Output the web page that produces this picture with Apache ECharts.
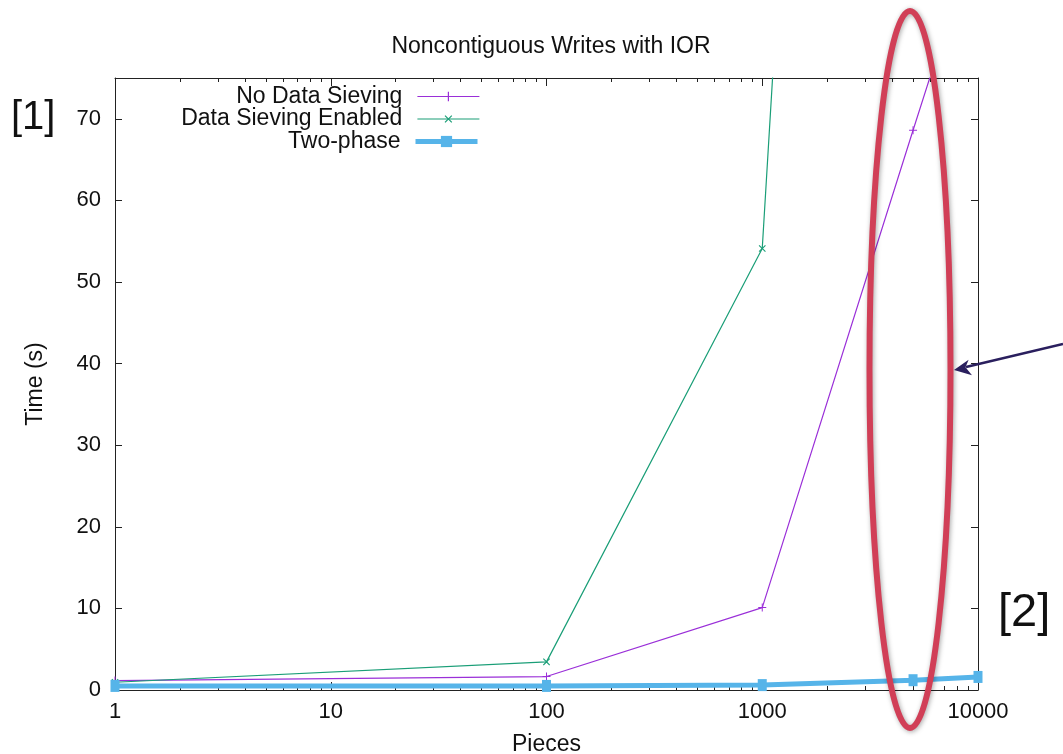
<!DOCTYPE html>
<html>
<head>
<meta charset="utf-8">
<script src="https://cdn.jsdelivr.net/npm/echarts@6/dist/echarts.min.js"></script>
<style>html,body{margin:0;padding:0;background:#fff}#c{width:1063px;height:754px}</style>
</head>
<body>
<div id="c"></div>
<script>
// ---- data ----
const pieces = [1, 100, 1000, 5000, 10000];
const noDataSieving = [1.15, 1.65, 10.1, 68.6, 93.5];
const dataSievingEnabled = [0.95, 3.45, 54.1, 360, null];
const twoPhase = [0.5, 0.5, 0.6, 1.2, 1.6];
const seriesNames = ['No Data Sieving', 'Data Sieving Enabled', 'Two-phase'];
const yTicks = [0, 10, 20, 30, 40, 50, 60, 70];
const xMajorTicks = [1, 10, 100, 1000, 10000];
const xMinorTicks = [];
for (let d = 1; d < 10000; d *= 10) for (let m = 2; m <= 9; m++) xMinorTicks.push(m * d);

const FONT = 'Liberation Sans, Arial, sans-serif';
const AX = '#222';
const purple = '#9a2fd8';
const green = '#1a9e77';
const blue = '#56b4e9';
const lineWidths = [1.2, 1.2, 5];
const plusPath = 'path://M3.5,0H4.5V3.5H8V4.5H4.5V8H3.5V4.5H0V3.5H3.5Z';

const pairs = (xs, ys) => xs.map((x, i) => [x, ys[i]]);

function xAxisDef(pos, ticks, len, showLabel, showLine) {
  return {
    type: 'log', logBase: 10, min: 1, max: 10000, position: pos,
    axisLine: { show: showLine, lineStyle: { color: AX, width: 1 } },
    axisTick: { show: true, inside: true, length: len, customValues: ticks, lineStyle: { color: AX } },
    axisLabel: {
      show: showLabel, customValues: showLabel ? xMajorTicks : undefined,
      formatter: v => String(Math.round(v)),
      fontSize: 22, fontFamily: FONT, color: '#111', margin: 11
    },
    splitLine: { show: false }, minorTick: { show: false }
  };
}

const chart = echarts.init(document.getElementById('c'), null, { renderer: 'canvas' });
chart.setOption({
  animation: false,
  backgroundColor: '#fff',
  title: {
    text: 'Noncontiguous Writes with IOR', left: 546, textAlign: 'center', top: 30,
    textStyle: { fontSize: 23, fontWeight: 'normal', fontFamily: FONT, color: '#111' }
  },
  grid: { left: 115, right: 85, top: 78, bottom: 64, containLabel: false, outerBoundsMode: 'none' },
  legend: seriesNames.map((n, i) => ({
    data: [n], orient: 'vertical', align: 'right', right: 583, top: 85 + i * 22.5, padding: 0,
    itemWidth: 62, itemHeight: i === 2 ? 14 : 12, selectedMode: false,
    lineStyle: { width: lineWidths[i] },
    textStyle: { fontSize: 23, fontFamily: FONT, color: '#111', padding: [0, 10, 0, 0] }
  })),
  xAxis: [
    Object.assign(xAxisDef('bottom', xMajorTicks, 8, true, true), {
      name: 'Pieces', nameLocation: 'middle', nameGap: 43,
      nameTextStyle: { fontSize: 23, fontFamily: FONT, color: '#111' }
    }),
    xAxisDef('bottom', xMinorTicks, 4, false, false),
    xAxisDef('top', xMajorTicks, 8, false, true),
    xAxisDef('top', xMinorTicks, 4, false, false)
  ],
  yAxis: [
    {
      type: 'value', min: 0, max: 75, interval: 10, position: 'left',
      name: 'Time (s)', nameLocation: 'middle', nameGap: 68,
      nameTextStyle: { fontSize: 23, fontFamily: FONT, color: '#111' },
      axisLine: { show: true, lineStyle: { color: AX } },
      axisTick: { show: true, inside: true, length: 7, customValues: yTicks, lineStyle: { color: AX } },
      axisLabel: { fontSize: 22, fontFamily: FONT, color: '#111', margin: 14, customValues: yTicks },
      splitLine: { show: false }
    },
    {
      type: 'value', min: 0, max: 75, interval: 10, position: 'right',
      axisLine: { show: true, lineStyle: { color: AX } },
      axisTick: { show: true, inside: true, length: 7, customValues: yTicks, lineStyle: { color: AX } },
      axisLabel: { show: false }, splitLine: { show: false }
    }
  ],
  series: [
    {
      name: seriesNames[0], type: 'line', data: pairs(pieces, noDataSieving),
      symbol: plusPath, symbolSize: 8, showAllSymbol: true,
      lineStyle: { color: purple, width: lineWidths[0] }, itemStyle: { color: purple }
    },
    {
      name: seriesNames[1], type: 'line', data: pairs(pieces, dataSievingEnabled),
      symbol: plusPath, symbolSize: 9, symbolRotate: 45, showAllSymbol: true,
      lineStyle: { color: green, width: lineWidths[1] }, itemStyle: { color: green }
    },
    {
      name: seriesNames[2], type: 'line', data: pairs(pieces, twoPhase),
      symbol: 'rect', symbolSize: [9, 12], showAllSymbol: true,
      lineStyle: { color: blue, width: lineWidths[2] }, itemStyle: { color: blue }
    }
  ],
  graphic: [
    { type: 'text', left: 11, top: 98, style: { text: '[1]', fontSize: 40, fontFamily: FONT, fill: '#111' } },
    { type: 'text', left: 998, top: 590, style: { text: '[2]', fontSize: 47, fontFamily: FONT, fill: '#111' } },
    {
      type: 'ellipse', shape: { cx: 910, cy: 369.5, rx: 40.5, ry: 358.5 }, z: 100,
      style: { fill: 'none', stroke: '#d13f57', lineWidth: 6, shadowBlur: 5, shadowColor: 'rgba(0,0,0,0.35)', shadowOffsetX: 1, shadowOffsetY: 1 }
    },
    { type: 'line', shape: { x1: 1063, y1: 344, x2: 966, y2: 367 }, z: 101, style: { stroke: '#2a1f5e', lineWidth: 2.6 } },
    {
      type: 'polygon', z: 101,
      shape: { points: [[954, 370], [968.6, 359.8], [965.5, 367.2], [972, 375.3]] },
      style: { fill: '#2a1f5e' }
    }
  ]
});
</script>
</body>
</html>
